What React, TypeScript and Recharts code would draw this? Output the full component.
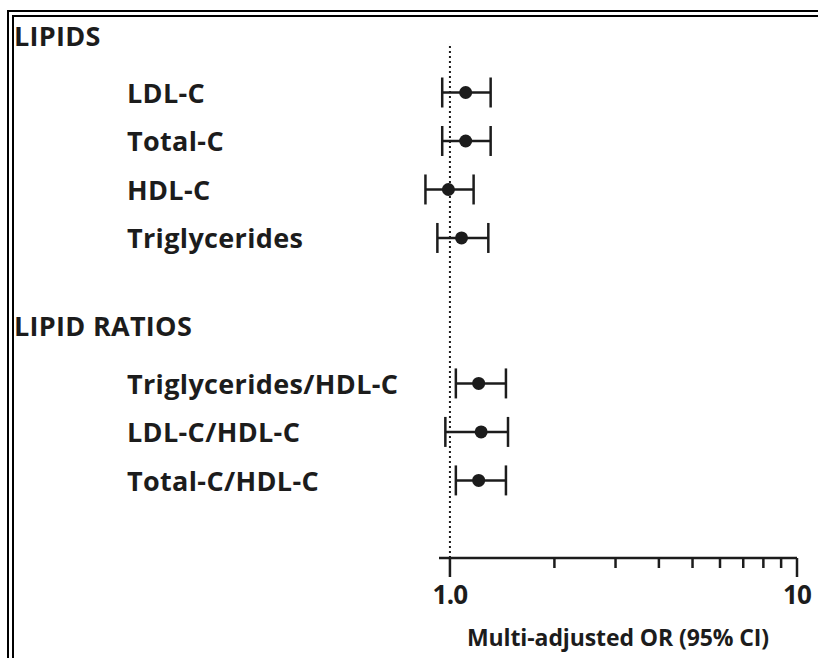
import React from "react";
import {
  ErrorBar,
  ReferenceLine,
  Scatter,
  ScatterChart,
  XAxis,
  YAxis,
} from "recharts";

// rows of the forest plot (row index, gap between the two groups)
const measures = [
  "LDL-C",
  "Total-C",
  "HDL-C",
  "Triglycerides",
  "Triglycerides/HDL-C",
  "LDL-C/HDL-C",
  "Total-C/HDL-C",
];
const rows = [1, 2, 3, 4, 7, 8, 9];
const oddsRatio = [1.11, 1.11, 0.99, 1.08, 1.21, 1.23, 1.21];
const ciLow = [0.95, 0.95, 0.85, 0.92, 1.04, 0.97, 1.04];
const ciHigh = [1.31, 1.31, 1.17, 1.29, 1.45, 1.47, 1.45];

const groupRows = [0, 6];
const groupNames = ["LIPIDS", "LIPID RATIOS"];

const xTicks = [1, 2, 3, 4, 5, 6, 7, 8, 9, 10];
const xLabels: Record<number, string> = { 1: "1.0", 10: "10" };

const data = measures.map((name, i) => ({
  name,
  row: rows[i],
  or: oddsRatio[i],
  err: [oddsRatio[i] - ciLow[i], ciHigh[i] - oddsRatio[i]],
}));

const FONT = "'Open Sans', 'Noto Sans', sans-serif";
const INK = "#1c1c1c";

function RowTick(props: any) {
  const { y, payload } = props;
  const g = groupRows.indexOf(payload.value);
  if (g >= 0) {
    return (
      <text
        x={14}
        y={y - 9}
        dominantBaseline="central"
        fontFamily={FONT}
        fontWeight={700}
        fontSize={27}
        letterSpacing={0.3}
        fill={INK}
      >
        {groupNames[g]}
      </text>
    );
  }
  const i = rows.indexOf(payload.value);
  return (
    <text
      x={127}
      y={y}
      dominantBaseline="central"
      fontFamily={FONT}
      fontWeight={700}
      fontSize={27}
      letterSpacing={0.35}
      fill={INK}
    >
      {measures[i]}
    </text>
  );
}

function OrTick(props: any) {
  const { x, y, payload } = props;
  const label = xLabels[payload.value];
  return (
    <g>
      <line x1={x} x2={x} y1={y} y2={y + (label ? 19 : 10)} stroke={INK} strokeWidth={2.5} />
      {label && (
        <text
          x={x}
          y={y + 46}
          textAnchor="middle"
          fontFamily={FONT}
          fontWeight={700}
          fontSize={26}
          letterSpacing={-0.8}
          fill={INK}
        >
          {label}
        </text>
      )}
    </g>
  );
}

function Dot(props: any) {
  const { cx, cy } = props;
  return <circle cx={cx} cy={cy} r={6.5} fill={INK} />;
}

export default function App() {
  return (
    <div
      style={{
        position: "absolute",
        left: 0,
        top: 0,
        width: 818,
        height: 658,
        background: "#fff",
        overflow: "hidden",
      }}
    >
      <div
        style={{
          position: "absolute",
          left: 7,
          top: 10,
          width: 811,
          height: 648,
          borderTop: "7px double #000",
          borderLeft: "7px double #000",
          boxSizing: "border-box",
        }}
      />
      <div style={{ position: "absolute", left: 0, top: 0 }}>
        <ScatterChart
          width={818}
          height={658}
          margin={{ top: 44, right: 21, bottom: 0, left: 0 }}
        >
          <XAxis
            type="number"
            dataKey="or"
            scale="log"
            domain={[0.93, 10]}
            allowDataOverflow
            ticks={xTicks}
            interval={0}
            tickSize={0}
            tickMargin={0}
            tick={<OrTick />}
            axisLine={{ stroke: INK, strokeWidth: 2.5 }}
            height={100}
            label={{
              value: "Multi-adjusted OR (95% CI)",
              position: "insideBottom",
              offset: 12,
              style: {
                fontFamily: FONT,
                fontWeight: 700,
                fontSize: 23,
                letterSpacing: -0.1,
                fill: INK,
                textAnchor: "middle",
              },
            }}
          />
          <YAxis
            type="number"
            dataKey="row"
            domain={[0, 10.6]}
            reversed
            ticks={[...groupRows, ...rows]}
            interval={0}
            width={439}
            axisLine={false}
            tickLine={false}
            tick={<RowTick />}
          />
          <ReferenceLine
            x={1}
            stroke={INK}
            strokeWidth={2}
            strokeDasharray="2 3"
          />
          <Scatter data={data} shape={<Dot />} isAnimationActive={false}>
            <ErrorBar
              dataKey="err"
              direction="x"
              width={15}
              stroke={INK}
              strokeWidth={2.5}
              isAnimationActive={false}
            />
          </Scatter>
        </ScatterChart>
      </div>
    </div>
  );
}
